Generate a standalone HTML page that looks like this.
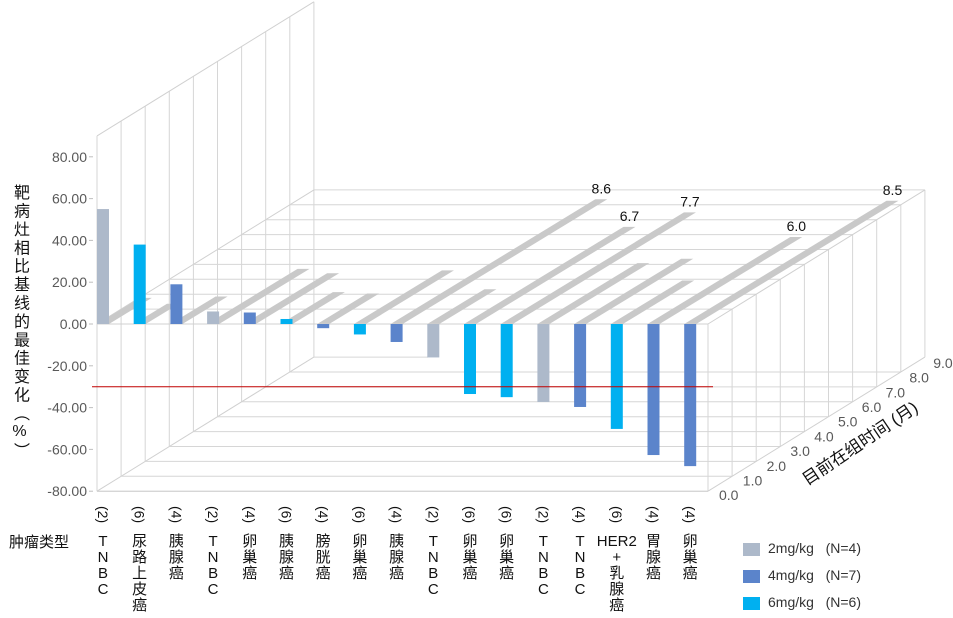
<!DOCTYPE html>
<html><head><meta charset="utf-8">
<style>
body{margin:0;background:#fff;}
#wrap{position:relative;width:953px;height:618px;overflow:hidden;font-family:"Liberation Sans","Noto Sans CJK SC",sans-serif;}
svg{position:absolute;left:0;top:0;}
.cat{position:absolute;width:24px;text-align:center;font-size:15px;line-height:16px;color:#111;}
.dose{writing-mode:vertical-rl;font-size:14px;height:24px;display:inline-block;line-height:14px;}
.ytitle{position:absolute;left:7px;top:184px;writing-mode:vertical-rl;text-orientation:upright;font-size:16px;letter-spacing:2.4px;color:#111;font-family:"Liberation Sans","Noto Sans CJK SC",sans-serif;}
.leg{position:absolute;font-size:14px;color:#333;}
</style></head>
<body>
<div id="wrap">
<svg id="chart" width="953" height="618"></svg>
<div class="ytitle">靶病灶相比基线的最佳变化（%）</div>
<div style="position:absolute;left:9px;top:531px;font-size:15px;color:#111;">肿瘤类型</div>
<div>
<div style="position:absolute;left:743px;top:543px;width:17px;height:13px;background:#adb9ca"></div>
<div class="leg" style="left:768px;top:540px">2mg/kg&nbsp;&nbsp;&nbsp;(N=4)</div>
<div style="position:absolute;left:743px;top:570px;width:17px;height:13px;background:#5b84cb"></div>
<div class="leg" style="left:768px;top:567px">4mg/kg&nbsp;&nbsp;&nbsp;(N=7)</div>
<div style="position:absolute;left:743px;top:597px;width:17px;height:13px;background:#00b0f0"></div>
<div class="leg" style="left:768px;top:594px">6mg/kg&nbsp;&nbsp;&nbsp;(N=6)</div>
</div>
<div style="position:absolute;left:810px;top:470px;font-size:17px;line-height:20px;color:#111;transform:rotate(-34deg);transform-origin:0 100%;white-space:nowrap;">目前在组时间 (月)</div>
</div>
<script>
const categories=["TNBC","尿路上皮癌","胰腺癌","TNBC","卵巢癌","胰腺癌","膀胱癌","卵巢癌","胰腺癌","TNBC","卵巢癌","卵巢癌","TNBC","TNBC","HER2+乳腺癌","胃腺癌","卵巢癌"];
const doses=[2,6,4,2,4,6,4,6,4,2,6,6,2,4,6,4,4];
const changes=[55,38,19,6,5.5,2.4,-2,-5,-8.6,-16,-33.5,-35,-37.3,-39.7,-50.2,-62.7,-68];
const months=[1.8,1.4,1.9,3.8,3.5,2.2,2.1,3.7,8.6,2.4,6.7,7.7,4.2,4.5,3.0,6.0,8.5];
const monthLabels=[null,null,null,null,null,null,null,null,"8.6",null,"6.7","7.7",null,null,null,"6.0","8.5"];
const yTicks=[80,60,40,20,0,-20,-40,-60,-80];
const depthTicks=[0,1,2,3,4,5,6,7,8,9];
const threshold=-30;
const doseColors={2:"#adb9ca",4:"#5b84cb",6:"#00b0f0"};

const NS="http://www.w3.org/2000/svg";
const svg=document.getElementById('chart');
const wrap=document.getElementById('wrap');
const FX0=97,FX1=708,BW=12,STEP=36.7;
function yv(v){return 324-2.09*v;}
function xb(i){return FX0+STEP*i;}
function dx(m){return 24.1*m;}
function dy(m){return -14.9*m;}
function rdx(m){return 23.8*m;}
function rdy(m){return -14.5*m;}
function mk(tag,attrs){const e=document.createElementNS(NS,tag);for(const k in attrs)e.setAttribute(k,attrs[k]);svg.appendChild(e);return e;}
function line(x1,y1,x2,y2,c,name){const e=mk('line',{x1:x1,y1:y1,x2:x2,y2:y2,stroke:c||'#d6d6d6','stroke-width':1});

return e;}

const TOP=90,BOT=-80;
depthTicks.forEach(k=>{line(FX0+dx(k),yv(TOP)+dy(k),FX0+dx(k),yv(BOT)+dy(k),'#d6d6d6','left-wall-gridline');});
line(FX0,yv(TOP),FX0+dx(9),yv(TOP)+dy(9),'#d0d0d0','left-wall-top-edge');
line(FX0,yv(0),FX0+dx(9),yv(0)+dy(9),'#d0d0d0','zero-plane-left-edge');
line(FX0,yv(BOT),FX0+dx(9),yv(BOT)+dy(9),'#d0d0d0','floor-left-edge');
depthTicks.forEach(k=>{line(FX0+dx(k),yv(0)+dy(k),FX1+dx(k),yv(0)+dy(k),'#d6d6d6','zero-plane-gridline');});
depthTicks.forEach(k=>{ if(k<9) line(FX0+dx(k),yv(BOT)+dy(k),FX1+dx(k),yv(BOT)+dy(k),'#d6d6d6','floor-gridline');});
line(FX0+dx(9),yv(BOT)+dy(9),FX0+dx(9)+114,yv(BOT)+dy(9),'#d6d6d6','back-wall-edge');
depthTicks.forEach(k=>{line(FX1+dx(k),yv(0)+dy(k),FX1+dx(k),yv(BOT)+dy(k),'#d6d6d6','right-wall-gridline');});
line(FX1,yv(0),FX1+dx(9),yv(0)+dy(9),'#d0d0d0','right-wall-top-edge');
line(FX1,yv(BOT),FX1+dx(9),yv(BOT)+dy(9),'#d0d0d0','right-wall-bottom-edge');
yTicks.forEach(v=>{
  const t=mk('text',{x:87,y:yv(v)+5,'text-anchor':'end','font-size':14,fill:'#595959','font-family':'Liberation Sans, sans-serif'});
  t.textContent=v.toFixed(2);
  
  
  line(89,yv(v),93,yv(v),'#bfbfbf','y-tick');
});
depthTicks.forEach(k=>{
  const t=mk('text',{x:FX1+11+23.8*k,y:yv(BOT)+9-14.7*k,'font-size':14,fill:'#595959','font-family':'Liberation Sans, sans-serif'});
  t.textContent=k.toFixed(1);
  
  
});
months.forEach((m,i)=>{
  const xl=xb(i),xr=xl+BW,y0=yv(0);
  const p=mk('polygon',{points:`${xl},${y0} ${xr},${y0} ${xr+rdx(m)},${y0+rdy(m)} ${xl+rdx(m)},${y0+rdy(m)}`,fill:'#c9c9c9'});
  
  
  if(monthLabels[i]){
    const t=mk('text',{x:xl+rdx(m)+6,y:y0+rdy(m)-6,'text-anchor':'middle','font-size':14,fill:'#111','font-family':'Liberation Sans, sans-serif'});
    t.textContent=monthLabels[i];
    
    
  }
});
line(FX0,yv(0),FX1,yv(0),'#d0d0d0','zero-line');
line(FX0,yv(BOT),FX1,yv(BOT),'#d0d0d0','floor-front-edge');
changes.forEach((v,i)=>{
  const y=Math.min(yv(0),yv(v)),h=Math.abs(yv(v)-yv(0));
  const r=mk('rect',{x:xb(i),y:y,width:BW,height:h,fill:doseColors[doses[i]]});
  
  
});
line(92,yv(threshold),713,yv(threshold),'#c00000','threshold-line');
categories.forEach((c,i)=>{
  const d=document.createElement('div');
  d.className='cat';
  
  
  d.style.left=(xb(i)+BW/2-12)+'px';
  d.style.top='503px';
  let html='<span class="dose">('+doses[i]+')</span><div style="margin-top:3px">';
  if(c.indexOf('HER2')===0){html+='<div style="margin-left:-10px;margin-right:-10px">HER2</div><div>+</div>';c=c.slice(5);}
  for(const ch of c) html+='<div>'+ch+'</div>';
  d.innerHTML=html+'</div>';
  wrap.appendChild(d);
});
</script>
</body></html>
